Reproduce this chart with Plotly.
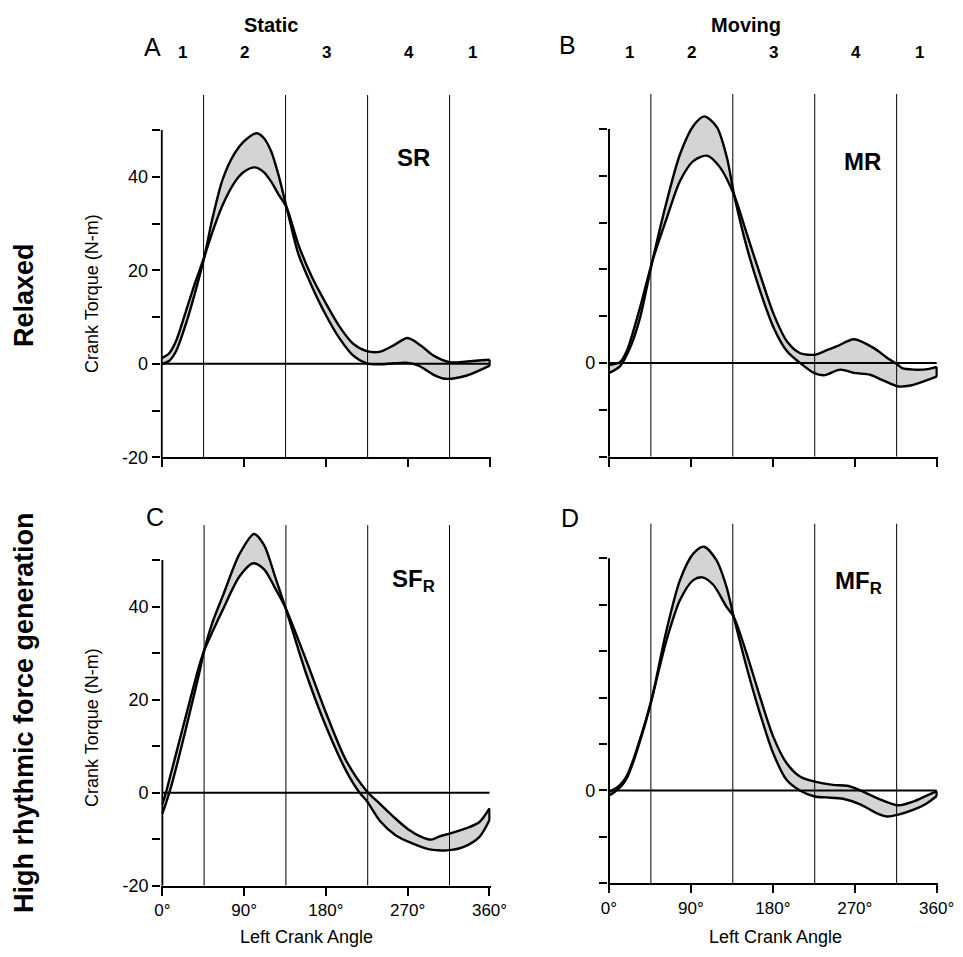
import plotly.graph_objects as go

# page is drawn with the browser's default 8px body margin
OFF = 8
W, H = 963 - OFF, 957 - OFF

# ---------------- data (crank angle in degrees, torque in N-m) ----------------
# Panel A : Static / Relaxed (SR)
A1_deg = [0, 8, 16, 27, 37, 47, 55, 67, 80, 90, 104, 112, 120, 128, 137, 150, 165, 180, 195, 210, 225, 240, 255, 270, 282, 298, 311, 335, 360]
A1_val = [0, 0.6, 2.8, 8.8, 15.5, 23, 30.5, 39.5, 45, 47.5, 49.3, 48.3, 45.5, 40.5, 33.5, 23.5, 16.5, 10.5, 5.5, 1.8, 0.1, -0.1, 0.1, 0.2, -0.4, -2.3, -3.2, -2.5, -0.4]
A2_deg = [0, 8, 16, 27, 37, 47, 55, 67, 80, 90, 102, 112, 120, 128, 137, 150, 165, 180, 195, 210, 225, 240, 255, 270, 285, 298, 316, 335, 360]
A2_val = [1.2, 2.2, 5, 11.5, 17.5, 23, 27.8, 34, 38.8, 41, 42, 41, 39, 36.3, 33.5, 25.5, 18.5, 13, 8, 4.3, 2.7, 2.6, 4, 5.5, 3.8, 1.8, 0.35, 0.5, 0.86]

# Panel B : Moving / Relaxed (MR)
B1_deg = [0, 12, 23, 34, 47.7, 63.5, 78, 92.8, 104.6, 118.5, 129.5, 137.6, 151.6, 166, 181, 195.6, 210, 225, 236, 254, 269, 287, 300, 318, 331, 350, 360]
B1_val = [-2.1, -0.7, 3.2, 9.6, 21.8, 34.6, 44.6, 50.7, 52.7, 50.4, 43.9, 35.8, 24.6, 15.4, 7.5, 2.5, 0, -2.1, -2.6, -1.4, -2.1, -2.5, -3.6, -5, -4.8, -3.6, -2.9]
B2_deg = [0, 12, 19.4, 34, 47.7, 63.5, 78, 92.8, 107.5, 122, 137.6, 151.6, 166, 181, 195.6, 210, 226.8, 240, 250.6, 269, 291, 305, 316.7, 322, 335, 350, 360]
B2_val = [-0.4, 0.2, 2.5, 11.8, 21.8, 31, 38.9, 43.2, 44.3, 41.8, 35.8, 27.5, 18.9, 10.4, 4.6, 2.1, 1.8, 2.8, 3.6, 5.1, 3.2, 1.2, -0.3, -1.1, -1.4, -1.3, -0.8]

# Panel C : Static / High rhythmic force (SF_R)
C1_deg = [0, 4, 10, 20, 30, 41, 46, 55, 67, 85, 101, 112, 124, 135.4, 158.4, 180.4, 202, 217, 225, 240, 257, 275, 294, 313, 331, 349, 360]
C1_val = [-4.5, -2.3, 1.5, 9, 17, 26, 30.5, 36.5, 42.5, 51.3, 55.6, 53.2, 46.5, 39.8, 25.5, 14.1, 4.8, 0, -1.8, -6.2, -9.2, -10.9, -12.2, -12.4, -11.7, -9.5, -5.9]
C2_deg = [0, 4, 10, 20, 30, 41, 46, 55, 67, 85, 100, 112, 124, 135.4, 158.4, 180.4, 202, 225, 240, 255, 270, 285, 296, 305, 316, 334, 349, 360]
C2_val = [-2.5, 0, 4.5, 12, 19.5, 27.5, 30.5, 34.5, 39.5, 46.5, 49.3, 48, 44, 39.8, 28.4, 17, 7, 0.3, -2.5, -5.3, -7.8, -9.5, -10.1, -9.4, -8.8, -7.7, -6.3, -3.4]

# Panel D : Moving / High rhythmic force (MF_R)
D1_deg = [0, 5, 10, 15, 20, 27, 34, 41, 47.6, 63.3, 78, 92.6, 104.3, 118, 129, 137, 151, 165.8, 180.4, 195, 209.7, 226, 239, 257, 276, 295, 305, 318, 334, 349, 360]
D1_val = [-1.1, -0.5, 0.3, 1.3, 2.8, 6.3, 10.6, 15.2, 20.2, 34.6, 45.3, 51, 52.5, 49.6, 43.9, 37.4, 26.7, 16.6, 8, 2.3, 0, -1.3, -1.5, -1.8, -3, -5, -5.6, -5.2, -4.2, -2.8, -1.2]
D2_deg = [0, 5, 10, 15, 20, 27, 34, 41, 47.6, 63.3, 78, 92.6, 102.5, 114.5, 129, 137, 151, 165.8, 180.4, 195, 209.7, 226, 246, 262, 276, 295, 318, 334, 349, 360]
D2_val = [-0.3, 0.2, 0.8, 1.8, 3.3, 6.8, 11, 15.5, 20.2, 32.4, 41, 45.3, 45.9, 44.3, 39.6, 37.4, 29.6, 20.2, 11.6, 5.9, 3, 1.9, 1.2, 1, 0, -1.7, -3.2, -2.4, -1.1, -0.2]

phase_bounds = [46, 136, 226, 316]
phase_label_deg = [22.5, 91, 181, 271, 341]
phase_labels = ["1", "2", "3", "4", "1"]
x_tick_vals = [0, 90, 180, 270, 360]
x_tick_text = ["0°", "90°", "180°", "270°", "360°"]
y_tick_vals = [-20, -10, 0, 10, 20, 30, 40, 50]
y_tick_text_full = ["-20", "", "0", "", "20", "", "40", ""]
y_tick_text_zero = ["", "", "0", "", "", "", "", ""]
column_titles = ["Static", "Moving"]
row_titles = ["Relaxed", "High rhythmic force generation"]
panel_letters = ["A", "B", "C", "D"]
condition_names = ["SR", "MR", "SF<sub>R</sub>", "MF<sub>R</sub>"]
condition_pos = [(276, 44.2), (279, 43), (276, 45.6), (274, 44.7)]
y_title = "Crank Torque (N-m)"
x_title = "Left Crank Angle"

FONT = "Liberation Sans, Arial, Helvetica, sans-serif"
FILL = "rgb(212,212,212)"
XR = [-1.2, 361.2]
YR = [-20, 57.5]

# pixel anchors in the screenshot: (px at 0deg, px at 360deg, px at y=-20, px at y=50)
anchors = [
    (161.7, 489.7, 457.3, 130.0),
    (609.0, 936.7, 456.7, 129.0),
    (162.3, 489.5, 885.7, 560.0),
    (609.0, 936.7, 883.3, 558.3),
]

panels = [
    (A1_deg, A1_val, A2_deg, A2_val),
    (B1_deg, B1_val, B2_deg, B2_val),
    (C1_deg, C1_val, C2_deg, C2_val),
    (D1_deg, D1_val, D2_deg, D2_val),
]


def px(x):
    return (x - OFF) / W


def py(y):
    return 1 - (y - OFF) / H


def ann(x, y, text, size, bold=False, angle=0, xref="paper", yref="paper"):
    return dict(x=x, y=y, xref=xref, yref=yref, text=("<b>%s</b>" % text) if bold else text,
                showarrow=False, textangle=angle, xanchor="center", yanchor="middle",
                font=dict(size=size, family=FONT, color="black"))


fig = go.Figure()
layout = dict(
    template="none",
    width=W, height=H, margin=dict(l=0, r=0, t=0, b=0, pad=0, autoexpand=False),
    paper_bgcolor="white", plot_bgcolor="rgba(0,0,0,0)",
    showlegend=False, font=dict(family=FONT, color="black"),
)
shapes = []
annotations = []

for i, (d1, v1, d2, v2) in enumerate(panels):
    n = "" if i == 0 else str(i + 1)
    xa, ya = "x" + n, "y" + n
    x0p, x360p, ym20p, y50p = anchors[i]
    ppd = (x360p - x0p) / 360.0
    ppu = (ym20p - y50p) / 70.0
    dl = px(x0p + XR[0] * ppd)
    dr = px(x0p + XR[1] * ppd)
    db = py(ym20p)
    dt = py(ym20p - (YR[1] - YR[0]) * ppu)
    bottom = i >= 2
    layout["xaxis" + n] = dict(
        domain=[dl, dr], range=XR, anchor=ya, showgrid=False, zeroline=False,
        showline=True, linecolor="black", linewidth=2, automargin=False,
        ticks="outside", ticklen=8, tickwidth=1.5, tickcolor="black",
        tickvals=x_tick_vals, ticktext=x_tick_text, showticklabels=bottom,
        tickfont=dict(size=17, family=FONT, color="black"),
    )
    layout["yaxis" + n] = dict(
        domain=[db, dt], range=YR, anchor=xa, showgrid=False, zeroline=False,
        showline=False, ticks="outside", ticklen=8, tickwidth=1.5, tickcolor="black",
        tickvals=y_tick_vals, automargin=False,
        ticktext=y_tick_text_full if i % 2 == 0 else y_tick_text_zero,
        tickfont=dict(size=18, family=FONT, color="black"),
    )
    shapes.append(dict(type="line", xref=xa, yref=ya, x0=0, x1=0, y0=-20, y1=50,
                       line=dict(color="black", width=2)))
    shapes.append(dict(type="line", xref=xa, yref=ya, x0=0, x1=360, y0=0, y1=0,
                       line=dict(color="black", width=2)))
    for b in phase_bounds:
        shapes.append(dict(type="line", xref=xa, yref=ya, x0=b, x1=b, y0=-20, y1=YR[1],
                           line=dict(color="black", width=1)))
    fig.add_trace(go.Scatter(x=d1, y=v1, xaxis=xa, yaxis=ya, mode="lines",
                             line=dict(color="black", width=2.4, shape="spline", smoothing=0.8),
                             hoverinfo="skip"))
    fig.add_trace(go.Scatter(x=d2, y=v2, xaxis=xa, yaxis=ya, mode="lines", fill="tonexty",
                             fillcolor=FILL,
                             line=dict(color="black", width=2.4, shape="spline", smoothing=0.8),
                             hoverinfo="skip"))
    fig.add_trace(go.Scatter(x=[d1[-1], d2[-1]], y=[v1[-1], v2[-1]], xaxis=xa, yaxis=ya,
                             mode="lines", line=dict(color="black", width=2.4), hoverinfo="skip"))
    cx, cy = condition_pos[i]
    annotations.append(ann(cx, cy, condition_names[i], 24, bold=True, xref=xa, yref=ya))
    if not bottom:
        for pd_, pl in zip(phase_label_deg, phase_labels):
            annotations.append(ann(pd_, py(53), pl, 17, bold=True, xref=xa))
    if i % 2 == 0:
        cyp = 294 if i == 0 else 728
        annotations.append(ann(px(92), py(cyp), y_title, 18, angle=-90))
    if bottom:
        cxp = 306 if i == 2 else 775
        annotations.append(ann(px(cxp), py(937), x_title, 18))

letter_px = [(152, 47), (567, 45), (155, 517), (570, 518)]
for L, (lx, ly) in zip(panel_letters, letter_px):
    annotations.append(ann(px(lx), py(ly), L, 25))

for t, cx in zip(column_titles, [271, 746]):
    annotations.append(ann(px(cx), py(25), t, 20, bold=True))
for t, cy in zip(row_titles, [295, 713]):
    annotations.append(ann(px(24), py(cy), t, 27, bold=True, angle=-90))

layout["shapes"] = shapes
layout["annotations"] = annotations
fig.update_layout(**layout)
fig.write_html("out.html")
